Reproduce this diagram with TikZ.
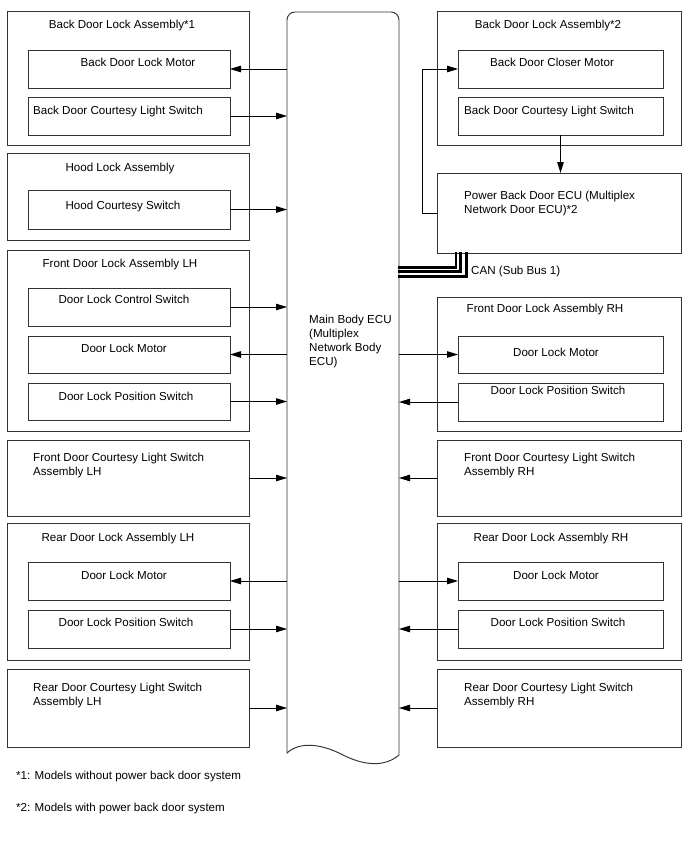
\documentclass[tikz,border=0pt]{standalone}
\usepackage{fontspec}
\setmainfont{Liberation Sans}
\usetikzlibrary{fit,arrows.meta}
\newcommand\mkbox[5]{\node[box,fit={(#2,#3)(#4,#5)}] (#1) {};}
\begin{document}
\begin{tikzpicture}[x=1pt,y=-1pt,
  box/.style={draw=black!80,line width=0.95pt,inner sep=0pt,outer sep=0pt,rectangle},
  txt/.style={inner sep=0pt,font=\fontsize{11.6}{14}\selectfont},
  arr/.style={draw=black,line width=0.9pt,-{Triangle[length=11pt,width=6.5pt]}},
  can/.style={draw=black,line cap=rect}
]
\useasboundingbox (0,0) rectangle (688,852);
\fill[white] (0,0) rectangle (688,852);

% main body ECU
\node[inner sep=0pt,outer sep=0pt,fit={(287,12)(399,755)}] (ecu) {};
\draw[black!80,line width=0.95pt] (287,753) -- (287,20) arc[start angle=180,end angle=270,radius=8]
  -- (391,12) arc[start angle=270,end angle=360,radius=8] -- (399,755)
  .. controls (385,767) and (365,766) .. (343,755)
  .. controls (322,744) and (300,741) .. (287,753) -- cycle;
\node[txt,anchor=base west,align=left] (ecutxt) at (309,365) {Main Body ECU\\(Multiplex\\Network Body\\ECU)};

% left column
\mkbox{l1}{7}{11}{249}{145}
\mkbox{l1a}{28}{50}{230}{88}
\mkbox{l1b}{28}{97}{230}{135}
\mkbox{l2}{7}{153}{249}{240}
\mkbox{l2a}{28}{190}{230}{229}
\mkbox{l3}{7}{250}{249}{431}
\mkbox{l3a}{28}{288}{230}{326}
\mkbox{l3b}{28}{336}{230}{373}
\mkbox{l3c}{28}{383}{230}{420}
\mkbox{l4}{7}{440}{249}{516}
\mkbox{l5}{7}{523}{249}{660}
\mkbox{l5a}{28}{562}{230}{600}
\mkbox{l5b}{28}{610}{230}{648}
\mkbox{l6}{7}{669}{249}{747}

\node[txt,anchor=base] (l1t) at (122,28) {Back Door Lock Assembly*1};
\node[txt,anchor=base] (l1at) at (138,66) {Back Door Lock Motor};
\node[txt,anchor=base west] (l1bt) at (33,114) {Back Door Courtesy Light Switch};
\node[txt,anchor=base] (l2t) at (120,171) {Hood Lock Assembly};
\node[txt,anchor=base] (l2at) at (123,209) {Hood Courtesy Switch};
\node[txt,anchor=base] (l3t) at (120,267) {Front Door Lock Assembly LH};
\node[txt,anchor=base] (l3at) at (124,303) {Door Lock Control Switch};
\node[txt,anchor=base] (l3bt) at (124,352) {Door Lock Motor};
\node[txt,anchor=base] (l3ct) at (126,400) {Door Lock Position Switch};
\node[txt,anchor=base west,align=left] (l4t) at (33,475) {Front Door Courtesy Light Switch\\Assembly LH};
\node[txt,anchor=base] (l5t) at (118,541) {Rear Door Lock Assembly LH};
\node[txt,anchor=base] (l5at) at (124,579) {Door Lock Motor};
\node[txt,anchor=base] (l5bt) at (126,626) {Door Lock Position Switch};
\node[txt,anchor=base west,align=left] (l6t) at (33,705) {Rear Door Courtesy Light Switch\\Assembly LH};

% right column
\mkbox{r1}{437}{11}{681}{145}
\mkbox{r1a}{458}{50}{663}{88}
\mkbox{r1b}{458}{97}{663}{135}
\mkbox{rp}{437}{173}{681}{253}
\mkbox{r2}{437}{297}{681}{431}
\mkbox{r2a}{458}{336}{663}{373}
\mkbox{r2b}{458}{383}{663}{421}
\mkbox{r3}{437}{440}{681}{516}
\mkbox{r4}{437}{523}{681}{660}
\mkbox{r4a}{458}{562}{663}{600}
\mkbox{r4b}{458}{610}{663}{648}
\mkbox{r5}{437}{669}{681}{747}

\node[txt,anchor=base] (r1t) at (548,28) {Back Door Lock Assembly*2};
\node[txt,anchor=base] (r1at) at (552,66) {Back Door Closer Motor};
\node[txt,anchor=base west] (r1bt) at (464,114) {Back Door Courtesy Light Switch};
\node[txt,anchor=base west,align=left] (rpt) at (464,213) {Power Back Door ECU (Multiplex\\Network Door ECU)*2};
\node[txt,anchor=base west] (cant) at (471,274) {CAN (Sub Bus 1)};
\node[txt,anchor=base] (r2t) at (545,312) {Front Door Lock Assembly RH};
\node[txt,anchor=base] (r2at) at (556,356) {Door Lock Motor};
\node[txt,anchor=base] (r2bt) at (558,394) {Door Lock Position Switch};
\node[txt,anchor=base west,align=left] (r3t) at (464,475) {Front Door Courtesy Light Switch\\Assembly RH};
\node[txt,anchor=base] (r4t) at (551,541) {Rear Door Lock Assembly RH};
\node[txt,anchor=base] (r4at) at (556,579) {Door Lock Motor};
\node[txt,anchor=base] (r4bt) at (558,626) {Door Lock Position Switch};
\node[txt,anchor=base west,align=left] (r5t) at (464,705) {Rear Door Courtesy Light Switch\\Assembly RH};

% footnotes
\node[txt,anchor=base west] (fn1) at (16,779) {*1: Models without power back door system};
\node[txt,anchor=base west] (fn2) at (16,811) {*2: Models with power back door system};

% left arrows
\draw[arr] (ecu.west |- l1a.east) -- (l1a.east);
\draw[arr] (l1b.east) -- (ecu.west |- l1b.east);
\draw[arr] (l2a.east) -- (ecu.west |- l2a.east);
\draw[arr] (l3a.east) -- (ecu.west |- l3a.east);
\draw[arr] (ecu.west |- l3b.east) -- (l3b.east);
\draw[arr] (l3c.east) -- (ecu.west |- l3c.east);
\draw[arr] (l4.east) -- (ecu.west |- l4.east);
\draw[arr] (ecu.west |- l5a.east) -- (l5a.east);
\draw[arr] (l5b.east) -- (ecu.west |- l5b.east);
\draw[arr] (l6.east) -- (ecu.west |- l6.east);

% right arrows
\draw[arr] (ecu.east |- r2a.west) -- (r2a.west);
\draw[arr] (r2b.west) -- (ecu.east |- r2b.west);
\draw[arr] (r3.west) -- (ecu.east |- r3.west);
\draw[arr] (ecu.east |- r4a.west) -- (r4a.west);
\draw[arr] (r4b.west) -- (ecu.east |- r4b.west);
\draw[arr] (r5.west) -- (ecu.east |- r5.west);

% power back door ECU connections
\coordinate (lx) at (422,0);
\draw[arr] (rp.west) -- (lx |- rp.west) -- (lx |- r1a.west) -- (r1a.west);
\draw[arr] (r1b.south) -- (r1b.south |- rp.north);

% CAN bus
\coordinate (canA) at (456,267.5);
\coordinate (canB) at (460.5,271.5);
\coordinate (canC) at (466,276);
\draw[can,line width=2.2pt] (rp.south -| canA) |- (ecu.east |- canA);
\draw[can,line width=2.2pt] (rp.south -| canB) |- (ecu.east |- canB);
\draw[can,line width=3pt] (rp.south -| canC) |- (ecu.east |- canC);
\end{tikzpicture}
\end{document}
